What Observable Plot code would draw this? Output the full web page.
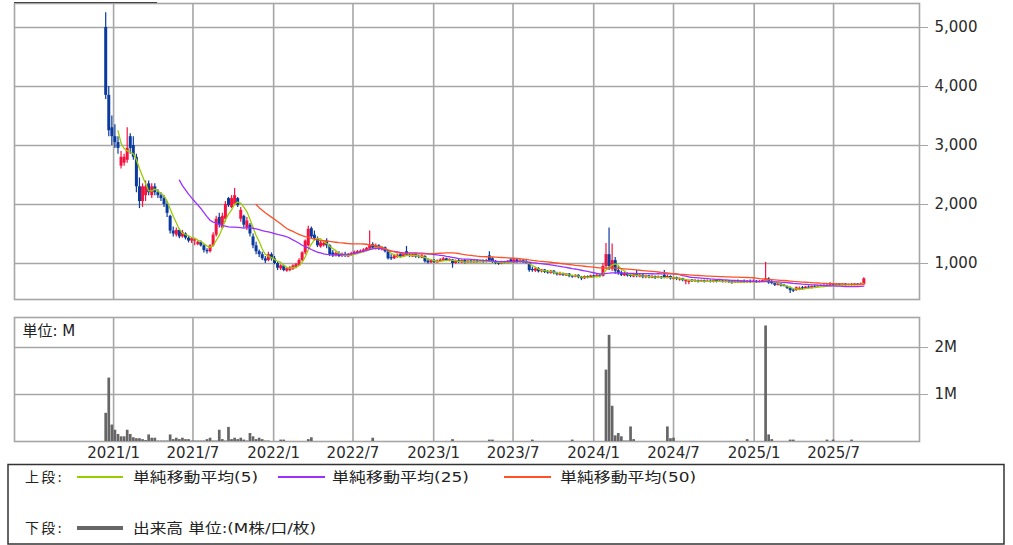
<!DOCTYPE html>
<html><head><meta charset="utf-8">
<script src="https://cdn.jsdelivr.net/npm/d3@7"></script>
<script src="https://cdn.jsdelivr.net/npm/@observablehq/plot@0.6"></script>
<style>
html,body{margin:0;padding:0;background:#fff;}
body{width:1013px;height:545px;overflow:hidden;position:relative;font-family:"DejaVu Sans","Noto Sans CJK JP",sans-serif;}
#price{position:absolute;left:0;top:0;}
#vol{position:absolute;left:0;top:300px;}
#legend{position:absolute;left:0;top:462px;}
#tab{position:absolute;left:14px;top:2px;width:143px;height:0;border-top:1px solid #444;}
#price [aria-label="y-axis tick"], #vol [aria-label="y-axis tick"]{stroke:#a6a6a6;}
#price [aria-label="y-axis"] .tick line, #vol [aria-label="y-axis"] .tick line{stroke:#a6a6a6;}
</style></head><body>
<div id="price"></div><div id="vol"></div><div id="tab"></div>
<svg id="legend" width="1013" height="83" font-family="DejaVu Sans, Noto Sans CJK JP" font-size="14" fill="#222">
  <rect x="8" y="2.5" width="996" height="79.5" fill="none" stroke="#333" stroke-width="1.5"></rect>
</svg>
<script>
// weekly candles, first week starting 2020-12-14
const firstWeek = "2020-12-14";
const open = [
5000,3850,3300,3150,3050,2650,2700,2750,3150,3000,
2800,2300,2050,2150,2350,2150,2300,2200,2150,2100,
2000,1800,1550,1480,1560,1450,1500,1430,1380,1380,
1320,1360,1300,1220,1200,1300,1480,1780,1600,1750,
2100,1950,2000,2100,1750,1800,1600,1650,1450,1300,
1200,1150,1080,1050,1150,1080,1000,910,960,870,
880,900,930,960,1050,1180,1300,1590,1480,1420,
1280,1300,1380,1300,1180,1130,1170,1120,1150,1110,
1140,1150,1170,1180,1200,1220,1240,1320,1250,1300,
1230,1270,1200,1100,1080,1100,1150,1110,1200,1140,
1110,1150,1110,1090,1120,1040,1010,1050,1010,1030,
1040,1080,1040,1060,1000,1050,1010,1050,1010,1040,
1010,1040,1020,1040,1020,1130,1080,1030,1010,990,
1030,1000,1060,1010,1060,1020,1050,1030,1000,900,
870,910,860,890,860,830,870,830,800,830,
790,820,790,770,800,770,740,780,760,790,
770,800,780,950,1150,900,1050,880,840,790,
830,800,770,810,770,800,760,790,750,780,
750,770,800,750,780,730,760,720,740,690,
680,720,690,710,690,710,690,700,680,710,
690,700,680,700,690,670,690,670,700,680,
700,680,700,680,690,700,740,680,660,630,
650,630,610,580,550,540,560,590,570,600,
580,610,600,620,600,630,620,640,630,650,
630,650,630,640,630,650,640,640];
const high = [
5250,4000,3500,3350,3150,2900,2850,3300,3200,3150,
2850,2450,2350,2400,2400,2350,2350,2250,2200,2150,
2050,1820,1620,1600,1580,1560,1520,1460,1440,1420,
1380,1380,1320,1250,1320,1520,1800,1850,1850,2050,
2120,2150,2270,2120,1950,1820,1780,1680,1500,1360,
1230,1190,1120,1190,1180,1120,1020,980,970,930,
950,980,1000,1080,1200,1400,1630,1620,1550,1450,
1380,1380,1420,1320,1220,1200,1200,1180,1190,1170,
1190,1210,1220,1230,1250,1270,1550,1350,1330,1320,
1290,1280,1220,1150,1150,1160,1170,1160,1290,1170,
1160,1160,1140,1150,1130,1080,1060,1070,1060,1080,
1100,1090,1080,1070,1060,1080,1060,1070,1050,1060,
1050,1060,1050,1060,1070,1200,1100,1050,1030,1040,
1040,1050,1090,1080,1080,1070,1070,1050,1010,940,
930,930,900,900,880,880,880,850,850,840,
830,830,800,810,810,780,790,790,800,800,
820,810,1000,1340,1600,1330,1100,950,870,850,
840,820,830,880,820,820,800,800,800,790,
790,780,880,800,790,770,770,760,750,730,
720,730,730,720,720,720,720,720,720,720,
720,710,710,710,700,700,720,710,720,710,
720,720,710,710,720,1020,760,720,680,670,
660,650,620,600,570,600,600,610,610,620,
620,630,630,640,640,640,680,660,660,660,
660,660,650,660,660,660,670,760];
const low = [
3780,3150,3000,2950,2850,2600,2650,2700,2850,2750,
2200,1930,1950,2050,2150,2100,2150,2100,2050,1950,
1780,1500,1450,1450,1420,1430,1400,1350,1340,1300,
1300,1280,1180,1160,1180,1280,1450,1600,1580,1700,
1950,1930,1980,1950,1700,1600,1560,1450,1250,1150,
1100,1050,1000,1030,1040,980,880,880,860,850,
860,880,910,950,1030,1150,1280,1420,1380,1270,
1260,1280,1250,1120,1100,1110,1100,1100,1100,1100,
1120,1140,1160,1170,1180,1200,1230,1240,1230,1220,
1210,1180,1060,1050,1070,1090,1090,1100,1120,1100,
1100,1090,1080,1080,1010,990,1000,1000,1000,1020,
1030,1040,1030,920,990,1000,1000,990,1000,1000,
1000,1000,1010,1000,1010,1020,1000,980,970,980,
990,990,1000,1000,1000,1010,1000,990,850,850,
850,840,840,830,820,820,810,790,790,780,
780,760,750,760,740,710,730,740,750,750,
760,760,770,900,880,870,820,800,780,780,
770,760,760,760,760,740,740,740,740,730,
740,730,740,740,720,720,710,700,690,640,
640,680,680,670,680,670,680,670,670,670,
680,670,670,660,650,660,660,660,660,660,
660,670,660,670,680,680,650,640,610,620,
600,600,560,490,510,530,540,560,560,570,
570,590,590,600,590,600,610,620,620,620,
620,620,620,620,620,630,630,630];
const close = [
3850,3250,3150,3050,2950,2800,2800,2950,2950,2800,
2300,2050,2300,2300,2200,2300,2200,2150,2100,2000,
1850,1550,1500,1560,1450,1520,1430,1380,1420,1400,
1360,1300,1220,1200,1300,1480,1750,1650,1800,2000,
1980,2100,2150,1980,1900,1650,1720,1500,1300,1200,
1150,1080,1040,1150,1080,1000,920,960,880,910,
930,960,980,1050,1180,1380,1580,1450,1420,1300,
1350,1340,1300,1150,1130,1170,1120,1150,1120,1150,
1170,1190,1200,1210,1230,1260,1300,1260,1300,1240,
1270,1200,1080,1080,1130,1140,1110,1150,1140,1120,
1150,1110,1100,1130,1030,1010,1050,1020,1040,1060,
1080,1050,1070,1000,1040,1020,1050,1010,1040,1020,
1040,1020,1040,1020,1050,1040,1020,1000,990,1030,
1010,1040,1020,1060,1030,1050,1020,1000,880,880,
910,860,890,850,840,870,830,810,830,800,
820,780,770,800,760,740,780,760,790,770,
800,780,950,1150,950,1050,870,830,800,830,
790,780,810,780,800,760,790,760,780,750,
770,750,760,780,740,760,730,740,710,720,
700,700,710,690,710,690,700,690,710,690,
700,680,700,680,670,690,680,700,680,700,
680,700,680,700,710,740,670,660,630,650,
620,610,580,540,530,590,580,570,600,580,
610,600,620,610,630,610,640,630,650,630,
650,630,640,630,650,640,650,740];
// weekly volume, millions of shares
const volume = [
0.60,1.35,0.35,0.24,0.15,0.10,0.10,0.24,0.15,0.08,
0.06,0.06,0.04,0.02,0.14,0.07,0.07,0.01,0.01,0.01,
0.01,0.14,0.04,0.07,0.04,0.07,0.04,0.04,0.01,0.01,
0.01,0.01,0.01,0.04,0.07,0.01,0.01,0.24,0.04,0.01,
0.30,0.04,0.07,0.04,0.07,0.03,0.01,0.17,0.10,0.04,
0.07,0.04,0.01,0.01,0,0,0,0.03,0.03,0,
0,0,0,0,0,0,0.04,0.08,0,0,
0,0,0,0,0,0,0,0,0,0,
0,0,0,0,0,0,0,0.07,0,0,
0,0,0,0,0,0,0,0,0,0,
0,0,0,0,0,0,0,0,0,0,
0,0,0,0.04,0,0,0,0,0,0,
0,0,0,0,0,0.03,0.03,0,0,0,
0,0,0,0,0,0,0,0,0,0.03,
0,0,0,0,0,0,0,0,0,0,
0,0,0.03,0,0,0,0,0,0,0,
0,0,0,1.52,2.26,0.75,0.12,0.17,0.10,0.01,
0.01,0.31,0.04,0,0,0,0,0,0,0,
0,0,0,0.31,0.06,0.07,0,0,0,0,
0,0,0,0,0,0,0,0,0,0,
0,0,0,0,0,0,0,0,0,0.04,
0,0,0,0,0,2.46,0.14,0.04,0,0,
0,0,0,0.03,0.03,0,0,0,0,0,
0,0,0,0,0,0.03,0,0.03,0,0,
0,0,0,0.03,0,0,0,0];

const xTickLabels = ["2021/1","2021/7","2022/1","2022/7","2023/1","2023/7","2024/1","2024/7","2025/1","2025/7"];
const priceTicks = [1000,2000,3000,4000,5000];
const volTicks = [1,2];
const volTickLabels = ["1M","2M"];
const maPeriods = [5,25,50];
const maNames = ["単純移動平均(5)","単純移動平均(25)","単純移動平均(50)"];

const RED = "#f5123f", BLUE = "#0b3a9e";
const MA_COLORS = ["#9acd00","#9b30ff","#ff5026"];
const GRID = "#a6a6a6";

const parseDay = d3.utcParse("%Y-%m-%d");
const start = parseDay(firstWeek);
const weeks = close.map((_, i) => d3.utcDay.offset(start, 7 * i));
const candles = weeks.map((d, i) => ({date: d, open: open[i], high: high[i], low: low[i], close: close[i],
  color: close[i] >= open[i] ? RED : BLUE}));
const vols = weeks.map((d, i) => ({date: d, vol: volume[i]}));
const tickDates = xTickLabels.map(s => { const [y, m] = s.split("/"); return new Date(Date.UTC(+y, +m - 1, 1)); });
const xDomain = [new Date(Date.UTC(2020, 4, 20)), new Date(Date.UTC(2026, 0, 13))];

function movingAverage(k) {
  const out = [];
  for (let i = k - 1; i < close.length; i++) {
    out.push({date: weeks[i], value: d3.mean(close.slice(i - k + 1, i + 1))});
  }
  return out;
}
const maSeries = maPeriods.map(movingAverage);

const commonStyle = {fontFamily: "DejaVu Sans, Noto Sans CJK JP", fontSize: "15px", color: "#2a2a2a", background: "transparent", overflow: "visible"};

const pricePlot = Plot.plot({
  width: 1013, height: 300,
  marginLeft: 14, marginRight: 94, marginTop: 3, marginBottom: 1,
  style: commonStyle,
  color: {type: "identity"},
  x: {type: "utc", domain: xDomain, axis: null},
  y: {domain: [390, 5407], axis: "right", ticks: priceTicks, tickFormat: d3.format(","), tickSize: 8, tickPadding: 7, label: null},
  marks: [
    Plot.ruleY(priceTicks, {stroke: GRID, strokeWidth: 1.6}),
    Plot.ruleX(tickDates, {stroke: GRID, strokeWidth: 1.6}),
    Plot.frame({stroke: GRID, strokeWidth: 1.6}),
    Plot.ruleX(candles, {x: "date", y1: "low", y2: "high", stroke: "color", strokeWidth: 1.2}),
    Plot.ruleX(candles, {x: "date", y1: "open", y2: "close", stroke: "color", strokeWidth: 3}),
    ...maSeries.map((s, j) => Plot.line(s, {x: "date", y: "value", stroke: MA_COLORS[j], strokeWidth: 1.3}))
  ]
});
document.getElementById("price").append(pricePlot);

const volPlot = Plot.plot({
  width: 1013, height: 162,
  marginLeft: 14, marginRight: 94, marginTop: 17, marginBottom: 21,
  style: commonStyle,
  x: {type: "utc", domain: xDomain, ticks: tickDates, tickFormat: d => xTickLabels[tickDates.findIndex(t => +t === +d)], tickSize: 0, tickPadding: 6, label: null},
  y: {domain: [0, 2.64], axis: "right", ticks: volTicks, tickFormat: d => volTickLabels[volTicks.indexOf(d)], tickSize: 8, tickPadding: 7, label: null},
  marks: [
    Plot.ruleY(volTicks, {stroke: GRID, strokeWidth: 1.6}),
    Plot.ruleX(tickDates, {stroke: GRID, strokeWidth: 1.6}),
    Plot.frame({stroke: GRID, strokeWidth: 1.6}),
    Plot.ruleX(vols.filter(d => d.vol > 0), {x: "date", y1: 0, y2: "vol", stroke: "#666", strokeWidth: 2.7}),
    Plot.text(["単位: M"], {frameAnchor: "top-left", dx: 8, dy: 13.5, textAnchor: "start", lineAnchor: "middle", fill: "#222", fontSize: 15})
  ]
});
document.getElementById("vol").append(volPlot);

// legend
const svg = d3.select("#legend");
const row1 = 15, row2 = 66;
svg.append("text").attr("x", 25).attr("y", row1).attr("dominant-baseline", "central").attr("textLength", 37).text("上段:");
const legendItems = [
  {x1: 77, x2: 123, tx: 133, tw: 125},
  {x1: 278, x2: 325, tx: 332, tw: 137},
  {x1: 504, x2: 551, tx: 560, tw: 136}
];
legendItems.forEach((it, j) => {
  svg.append("line").attr("x1", it.x1).attr("x2", it.x2).attr("y1", row1).attr("y2", row1)
    .attr("stroke", MA_COLORS[j]).attr("stroke-width", 1.8);
  svg.append("text").attr("x", it.tx).attr("y", row1).attr("dominant-baseline", "central")
    .attr("textLength", it.tw).attr("lengthAdjust", "spacingAndGlyphs").text(maNames[j]);
});
svg.append("text").attr("x", 25).attr("y", row2).attr("dominant-baseline", "central").attr("textLength", 37).text("下段:");
svg.append("line").attr("x1", 77).attr("x2", 123).attr("y1", row2).attr("y2", row2).attr("stroke", "#666").attr("stroke-width", 4);
svg.append("text").attr("x", 133).attr("y", row2).attr("dominant-baseline", "central")
  .attr("textLength", 183).attr("lengthAdjust", "spacingAndGlyphs").text("出来高 単位:(M株/口/枚)");
</script>
</body></html>
